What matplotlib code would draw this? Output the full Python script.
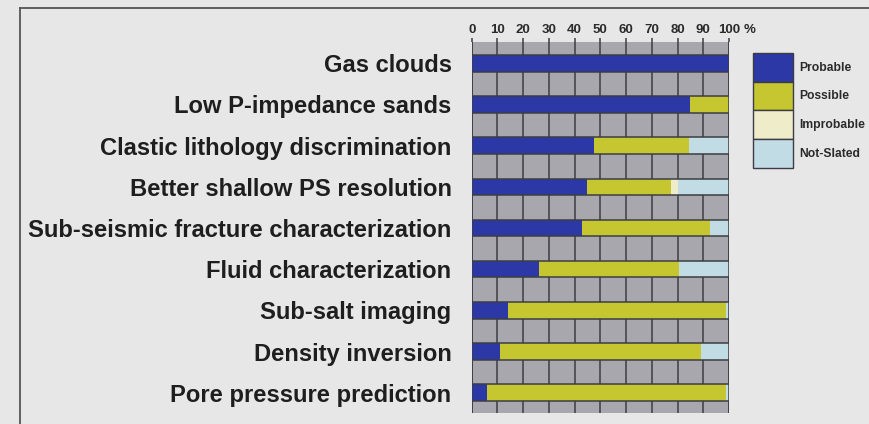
import numpy as np
import matplotlib
matplotlib.use('Agg')
import matplotlib.pyplot as plt
from matplotlib.patches import Patch
from matplotlib.lines import Line2D

# data (percent of respondents)
categories = ['Gas clouds', 'Low P-impedance sands', 'Clastic lithology discrimination',
              'Better shallow PS resolution', 'Sub-seismic fracture characterization',
              'Fluid characterization', 'Sub-salt imaging', 'Density inversion',
              'Pore pressure prediction']
probable = [100, 85, 47.5, 45, 43, 26, 14, 11, 6]
possible = [0, 15, 37, 32.5, 49.5, 54.5, 85, 78, 93]
improbable = [0, 0, 0, 2.5, 0, 0, 0, 0, 0]
not_slated = [0, 0, 15.5, 20, 7.5, 19.5, 1, 11, 1]
series_names = ['Probable', 'Possible', 'Improbable', 'Not-Slated']
series_colors = ['#2b38a6', '#c6c631', '#efecca', '#c2dce5']
xticks = [0, 10, 20, 30, 40, 50, 60, 70, 80, 90, 100]

bg = '#e7e7e7'
grid_col = '#3c3c44'
sans = ['Liberation Sans', 'DejaVu Sans']

fig = plt.figure(figsize=(8.69, 4.24), dpi=100, facecolor=bg)
W, H = 869, 424
ax = fig.add_axes([471.7 / W, 1 - 413 / H, (729 - 471.7) / W, (413 - 42) / H])
ax.set_facecolor('#a9a7ae')

n = len(categories)
ypos = np.arange(n)
bh = 0.4
series = [probable, possible, improbable, not_slated]
left = np.zeros(n)
for vals, name, col in zip(series, series_names, series_colors):
    vals = np.array(vals, dtype=float)
    ax.barh(ypos, vals, left=left, height=bh, color=col, edgecolor='none',
            label=name, zorder=3)
    left += vals

# grid: vertical lines at every 10 %, horizontal lines on the bar edges
for xv in xticks:
    ax.axvline(xv, color=grid_col, lw=1.1, zorder=2)
ax.axvline(0, color=grid_col, lw=1.1, zorder=4)
ax.axvline(100, color=grid_col, lw=1.1, zorder=4)
for yv in ypos:
    ax.axhline(yv - bh / 2, color=grid_col, lw=1.1, zorder=4)
    ax.axhline(yv + bh / 2, color=grid_col, lw=1.1, zorder=4)

ax.set_xlim(0, 100)
ax.set_ylim(n - 1 + bh / 2 + 12 / 41, -bh / 2 - 13 / 41)
for s in ax.spines.values():
    s.set_visible(False)

ax.xaxis.tick_top()
ax.set_xticks(xticks)
ax.set_xticklabels([str(t) for t in xticks])
ax.tick_params(axis='x', length=3, width=1.1, color=grid_col, pad=1.5)
for lab in ax.get_xticklabels():
    lab.set_family(sans)
    lab.set_fontweight('bold')
    lab.set_fontsize(9.5)
    lab.set_color('#2a2a2a')
ax.annotate('%', xy=(105.5, 1), xycoords=('data', 'axes fraction'),
            xytext=(0, 4.5), textcoords='offset points', ha='left', va='bottom',
            fontsize=9.5, fontweight='bold', family=sans, color='#2a2a2a',
            annotation_clip=False)

ax.set_yticks(ypos)
ax.set_yticklabels(categories)
ax.tick_params(axis='y', length=0, pad=14.5)
for lab in ax.get_yticklabels():
    lab.set_family(sans)
    lab.set_fontweight('bold')
    lab.set_fontsize(17.1)
    lab.set_color('#1e1e1e')

handles = [Patch(facecolor=c, edgecolor='#3c3c44', lw=1.0) for c in series_colors]
leg = fig.legend(handles, series_names, loc='upper left',
                 bbox_to_anchor=(753 / W, 1 - 53 / H), frameon=False,
                 borderpad=0, borderaxespad=0, handlelength=3.3, handleheight=3.27,
                 labelspacing=0, handletextpad=0.55,
                 prop={'family': sans, 'weight': 'bold', 'size': 8.7})
for t in leg.get_texts():
    t.set_color('#2a2a2a')

# outer frame of the figure panel
fig.add_artist(Line2D([19.5 / W, 19.5 / W], [0, 1 - 7.5 / H], transform=fig.transFigure,
                      color='#55555a', lw=1.3))
fig.add_artist(Line2D([19.5 / W, 1], [1 - 7.5 / H, 1 - 7.5 / H], transform=fig.transFigure,
                      color='#55555a', lw=1.3))

fig.savefig('out.png', dpi=100, facecolor=bg)
